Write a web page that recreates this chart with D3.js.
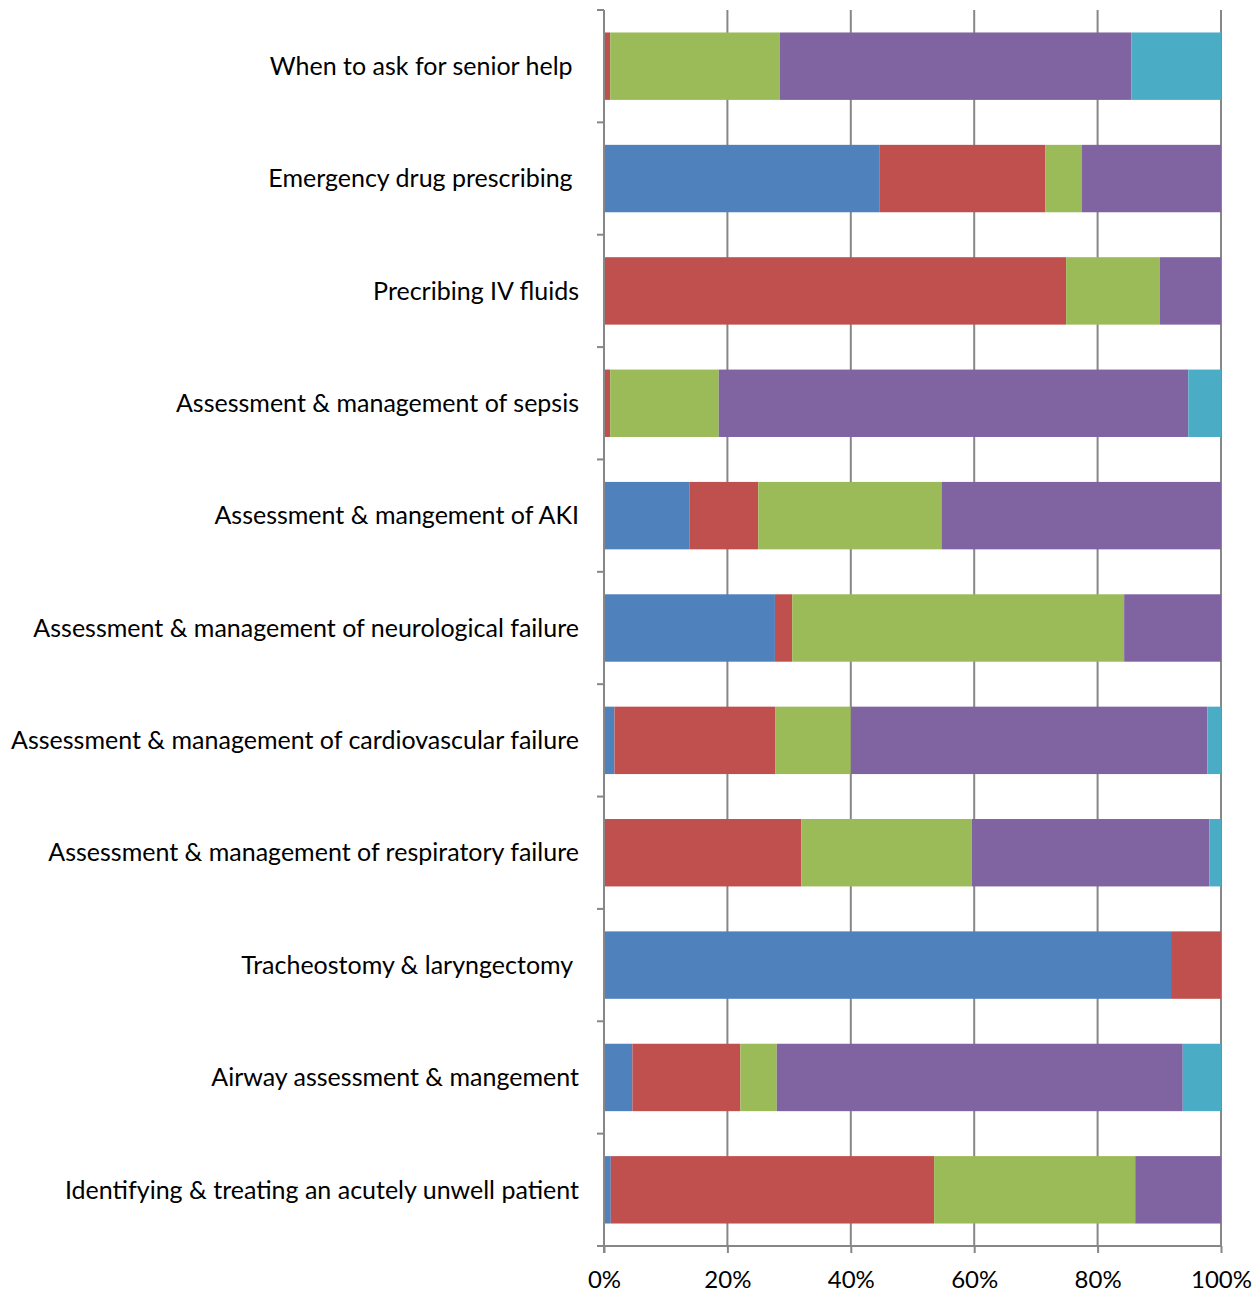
<!DOCTYPE html>
<html>
<head>
<meta charset="utf-8">
<script src="https://cdn.jsdelivr.net/npm/d3@7"></script>
<style>
  html, body { margin: 0; padding: 0; background: #fff; }
  svg { display: block; }
</style>
</head>
<body>
<svg id="chart" width="1255" height="1292"></svg>
<script>
// Training topics, top to bottom
const categories = [
  "When to ask for senior help ",
  "Emergency drug prescribing ",
  "Precribing IV fluids",
  "Assessment & management of sepsis",
  "Assessment & mangement of AKI",
  "Assessment & management of neurological failure",
  "Assessment & management of cardiovascular failure",
  "Assessment & management of respiratory failure",
  "Tracheostomy & laryngectomy ",
  "Airway assessment & mangement",
  "Identifying & treating an acutely unwell patient"
];

// Response shares (%) per topic, one array per series
const series1 = [0,   44.7, 0,    0,    13.9, 27.7, 1.7,  0,    91.9, 4.6,  1.1];
const series2 = [1.0, 26.8, 74.9, 1.0,  11.1, 2.8,  26.1, 32.0, 8.1,  17.5, 52.4];
const series3 = [27.5, 5.9, 15.2, 17.6, 29.7, 53.8, 12.2, 27.6, 0,    5.9,  32.6];
const series4 = [57.0, 22.6, 9.9, 76.1, 45.3, 15.7, 57.8, 38.5, 0,    65.8, 13.9];
const series5 = [14.5, 0,   0,    5.3,  0,    0,    2.2,  1.9,  0,    6.2,  0];

const seriesColors = ["#4F81BD", "#C0504D", "#9BBB59", "#8064A2", "#4BACC6"];
const xTicks = [0, 0.2, 0.4, 0.6, 0.8, 1.0];

const allSeries = [series1, series2, series3, series4, series5];
const keys = ["s1", "s2", "s3", "s4", "s5"];
const rows = categories.map((c, i) => {
  const r = { category: c };
  const total = d3.sum(allSeries, s => s[i]);
  keys.forEach((k, j) => { r[k] = allSeries[j][i] / total; });
  return r;
});

const svg = d3.select("#chart");
const plotLeft = 604, plotRight = 1221, plotTop = 10, plotBottom = 1246;

const x = d3.scaleLinear().domain([0, 1]).range([plotLeft, plotRight]);
const y = d3.scaleBand().domain(categories).range([plotTop, plotBottom])
  .paddingInner(0.4).paddingOuter(0.2);

const axisColor = "#878787";
const fontStack = "Lato, 'Open Sans', sans-serif";

// vertical gridlines
svg.append("g")
  .selectAll("line")
  .data(xTicks.slice(1))
  .join("line")
  .attr("x1", d => x(d)).attr("x2", d => x(d))
  .attr("y1", plotTop).attr("y2", plotBottom)
  .attr("stroke", axisColor).attr("stroke-width", 2);

// stacked bars
const stack = d3.stack().keys(keys);
const layers = stack(rows);
svg.append("g")
  .selectAll("g")
  .data(layers)
  .join("g")
  .attr("fill", (d, i) => seriesColors[i])
  .selectAll("rect")
  .data(d => d)
  .join("rect")
  .attr("x", d => x(d[0]))
  .attr("width", d => Math.max(0, x(d[1]) - x(d[0])))
  .attr("y", d => y(d.data.category))
  .attr("height", y.bandwidth());

// x axis
const xAxis = d3.axisBottom(x)
  .tickValues(xTicks)
  .tickFormat(d3.format(".0%"))
  .tickSizeInner(7).tickSizeOuter(0).tickPadding(18);
const gx = svg.append("g")
  .attr("transform", `translate(0,${plotBottom})`)
  .call(xAxis);
gx.select(".domain").attr("stroke", axisColor).attr("stroke-width", 2)
  .attr("d", `M${plotLeft - 7},0H${plotRight}`);
gx.selectAll(".tick line").attr("stroke", axisColor).attr("stroke-width", 2);
gx.selectAll(".tick text")
  .attr("fill", "#000")
  .style("font-family", fontStack)
  .style("font-size", "24px");

// y axis: ticks sit on band boundaries
const bounds = d3.range(categories.length + 1).map(i => plotTop + i * y.step());
const gy = svg.append("g");
gy.append("line")
  .attr("x1", plotLeft).attr("x2", plotLeft)
  .attr("y1", plotTop).attr("y2", plotBottom + 7)
  .attr("stroke", axisColor).attr("stroke-width", 2);
gy.selectAll("line.tk")
  .data(bounds)
  .join("line").attr("class", "tk")
  .attr("x1", plotLeft - 7).attr("x2", plotLeft)
  .attr("y1", d => d).attr("y2", d => d)
  .attr("stroke", axisColor).attr("stroke-width", 2);

// category labels
svg.append("g")
  .selectAll("text")
  .data(categories)
  .join("text")
  .attr("xml:space", "preserve")
  .attr("x", 579)
  .attr("y", d => y(d) + y.bandwidth() / 2)
  .attr("dy", "0.35em")
  .attr("text-anchor", "end")
  .style("font-family", fontStack)
  .style("font-size", "25px")
  .attr("fill", "#000")
  .text(d => d);
</script>
</body>
</html>
